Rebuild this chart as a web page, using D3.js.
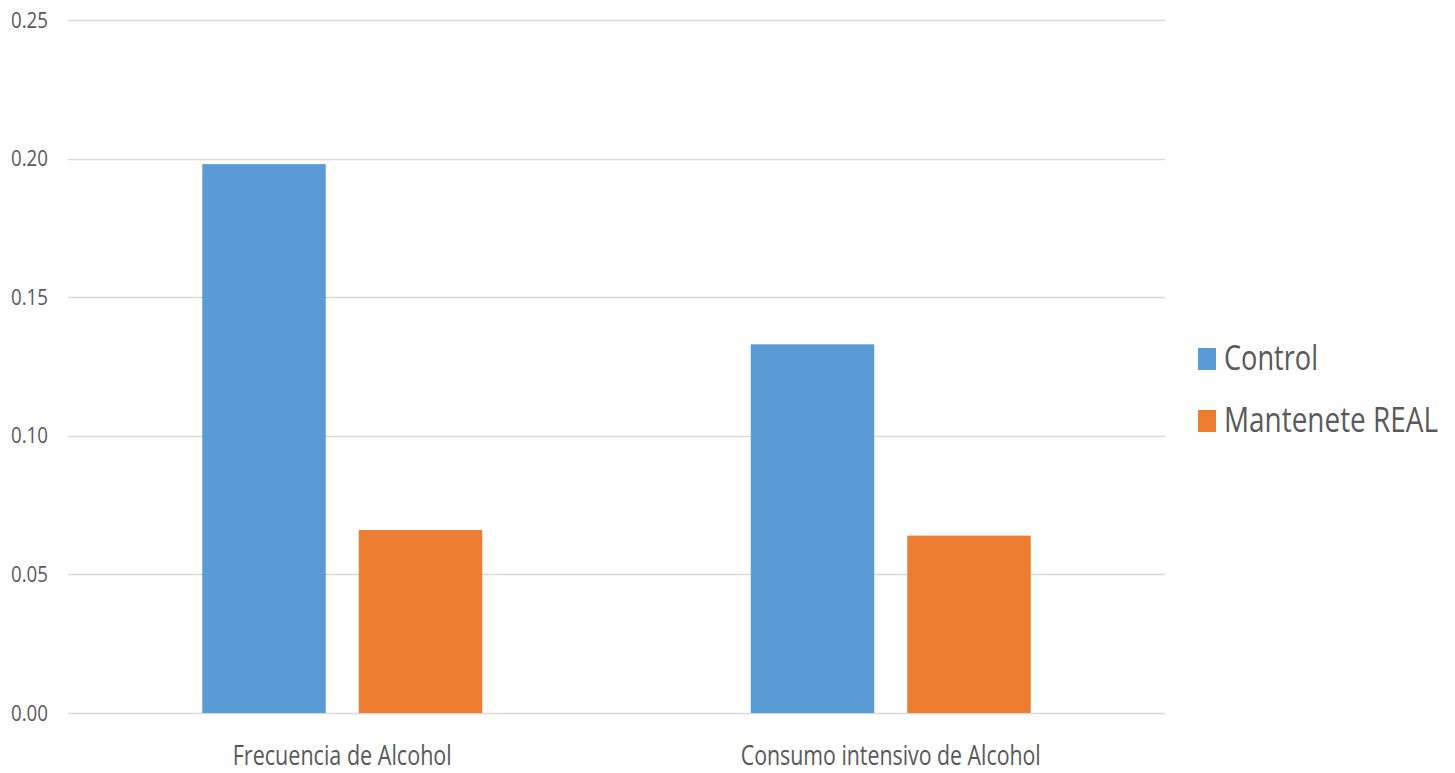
<!DOCTYPE html>
<html><head><meta charset="utf-8">
<script src="https://cdn.jsdelivr.net/npm/d3@7"></script>
<style>body{margin:0;background:#fff}svg{display:block}text{font-family:"Open Sans",sans-serif;fill:#595959}</style>
</head><body><svg id="c" width="1455" height="773"></svg>
<script>
const categories = ["Frecuencia de Alcohol", "Consumo intensivo de Alcohol"];
const seriesNames = ["Control", "Mantenete REAL"];
const control = [0.198, 0.133];
const mantenete = [0.066, 0.064];
const yTicks = [0, 0.05, 0.10, 0.15, 0.20, 0.25];
const colors = ["#5b9bd5", "#ed7d31"];

const svg = d3.select("#c");
const x0 = d3.scaleBand().domain(categories).range([68, 1165]).paddingInner(0).paddingOuter(0);
const y = d3.scaleLinear().domain([0, 0.25]).range([713, 20]);

// gridlines
svg.append("g").selectAll("line").data(yTicks).join("line")
  .attr("x1", 68).attr("x2", 1165)
  .attr("y1", d => Math.round(y(d)) + 0.5).attr("y2", d => Math.round(y(d)) + 0.5)
  .attr("stroke", "#d9d9d9").attr("stroke-width", 1.5);

// y labels
svg.append("g").selectAll("text").data(yTicks).join("text")
  .attr("x", 48).attr("y", d => y(d) + 7.5)
  .attr("text-anchor", "end").attr("font-size", 21)
  .attr("textLength", 37).attr("lengthAdjust", "spacingAndGlyphs")
  .text(d => d3.format(".2f")(d));

// bars
const data = categories.map((c, i) => ({cat: c, vals: [control[i], mantenete[i]]}));
const barW = 123.5, gap = 33;
const g = svg.append("g");
data.forEach(d => {
  const cx = x0(d.cat) + x0.bandwidth() / 2;
  d.vals.forEach((v, j) => {
    const bx = j === 0 ? cx - gap / 2 - barW : cx + gap / 2;
    g.append("rect").attr("x", bx).attr("width", barW)
      .attr("y", y(v)).attr("height", y(0) - y(v)).attr("fill", colors[j]);
  });
});

// category labels
const catLen = [219, 300];
svg.append("g").selectAll("text").data(categories).join("text")
  .attr("x", d => x0(d) + x0.bandwidth() / 2).attr("y", 765)
  .attr("text-anchor", "middle").attr("font-size", 28)
  .attr("textLength", (d, i) => catLen[i]).attr("lengthAdjust", "spacingAndGlyphs")
  .text(d => d);

// legend
const legLen = [94, 214];
const lg = svg.append("g");
seriesNames.forEach((s, i) => {
  const yy = 348 + i * 62;
  lg.append("rect").attr("x", 1198).attr("y", yy).attr("width", 18).attr("height", 22).attr("fill", colors[i]);
  lg.append("text").attr("transform", `translate(1224,${yy + 22}) scale(1,1.25)`).attr("font-size", 28)
    .attr("textLength", legLen[i]).attr("lengthAdjust", "spacingAndGlyphs").text(s);
});
</script></body></html>
